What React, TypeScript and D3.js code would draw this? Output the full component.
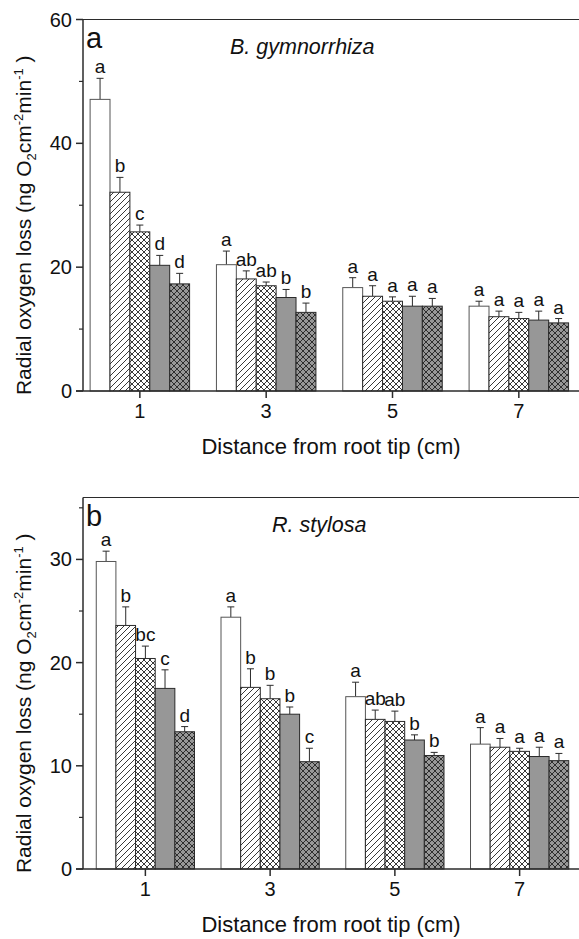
import React, { useEffect, useRef } from 'react';
import * as d3 from 'd3';

// distances along the root (cm) and the five treatments drawn in each group
const distances = [1, 3, 5, 7];
const treatmentFills = ['white', 'hatch', 'cross', 'grey', 'darkcross'];

// panel a: B. gymnorrhiza, one row per distance
const gymMeans = [
  [47.1, 32.1, 25.7, 20.3, 17.3],
  [20.4, 18.1, 17.0, 15.1, 12.7],
  [16.7, 15.3, 14.5, 13.7, 13.7],
  [13.7, 12.0, 11.7, 11.45, 11.0],
];
const gymErrors = [
  [3.4, 2.4, 1.1, 1.6, 1.7],
  [2.2, 1.3, 0.6, 1.3, 1.5],
  [1.6, 1.7, 0.7, 1.6, 1.25],
  [0.8, 0.9, 1.0, 1.45, 0.7],
];
const gymLetters = [
  ['a', 'b', 'c', 'd', 'd'],
  ['a', 'ab', 'ab', 'b', 'b'],
  ['a', 'a', 'a', 'a', 'a'],
  ['a', 'a', 'a', 'a', 'a'],
];

// panel b: R. stylosa
const styMeans = [
  [29.8, 23.6, 20.4, 17.5, 13.3],
  [24.4, 17.6, 16.5, 15.0, 10.4],
  [16.7, 14.5, 14.3, 12.5, 11.0],
  [12.1, 11.8, 11.4, 10.9, 10.5],
];
const styErrors = [
  [1.0, 1.8, 1.2, 1.8, 0.5],
  [1.0, 1.8, 1.3, 0.7, 1.3],
  [1.4, 0.9, 1.0, 0.5, 0.3],
  [1.6, 0.85, 0.3, 0.9, 0.7],
];
const styLetters = [
  ['a', 'b', 'bc', 'c', 'd'],
  ['a', 'b', 'b', 'b', 'c'],
  ['a', 'ab', 'ab', 'b', 'b'],
  ['a', 'a', 'a', 'a', 'a'],
];

const gymTicks = [0, 20, 40, 60];
const gymMinor = [10, 30, 50];
const styTicks = [0, 10, 20, 30];
const styMinor = [5, 15, 25, 35];

const FONT = '"Liberation Sans", Arial, Helvetica, sans-serif';
const INK = '#2b2b2b';
const BAR_W = 0.315; // in x units

const W = 579;
const H = 939;

type PanelCfg = {
  tag: string;
  species: string;
  speciesX: number;
  means: number[][];
  errors: number[][];
  letters: string[][];
  xDomain: [number, number];
  yDomain: [number, number];
  top: number;
  bottom: number;
  ticks: number[];
  minor: number[];
};

const fillFor = (f: string) => {
  if (f === 'white') return '#ffffff';
  if (f === 'grey') return '#979797';
  return `url(#pat-${f})`;
};

function drawPanel(svg: any, cfg: PanelCfg) {
  const left = 83;
  const right = W;

  const x = d3.scaleLinear().domain(cfg.xDomain).range([left, 582]);
  const y = d3.scaleLinear().domain(cfg.yDomain).range([cfg.bottom, cfg.top]);
  const inner = d3.scaleBand<number>()
    .domain(d3.range(treatmentFills.length))
    .range([-2.5 * BAR_W, 2.5 * BAR_W]);

  const g = svg.append('g');

  const bars = distances.flatMap((d, gi) =>
    treatmentFills.map((f, i) => ({
      d,
      i,
      fill: f,
      mean: cfg.means[gi][i],
      err: cfg.errors[gi][i],
      letter: cfg.letters[gi][i],
    }))
  );

  const x0 = (b: any) => x(b.d + (inner(b.i) as number));
  const x1 = (b: any) => x(b.d + (inner(b.i) as number) + BAR_W);
  const xc = (b: any) => (x0(b) + x1(b)) / 2;

  // error bars (upper half only)
  bars.forEach((b) => {
    const yt = y(b.mean + b.err);
    g.append('line')
      .attr('x1', xc(b)).attr('x2', xc(b))
      .attr('y1', y(b.mean)).attr('y2', yt)
      .attr('stroke', INK).attr('stroke-width', 1);
    g.append('line')
      .attr('x1', xc(b) - 3.5).attr('x2', xc(b) + 3.5)
      .attr('y1', yt).attr('y2', yt)
      .attr('stroke', INK).attr('stroke-width', 1);
  });

  g.selectAll('rect.bar')
    .data(bars)
    .join('rect')
    .attr('class', 'bar')
    .attr('x', x0)
    .attr('width', (b: any) => x1(b) - x0(b))
    .attr('y', (b: any) => y(b.mean))
    .attr('height', (b: any) => y(0) - y(b.mean))
    .attr('fill', (b: any) => fillFor(b.fill))
    .attr('stroke', (b: any) => (b.fill === 'white' ? '#555' : INK))
    .attr('stroke-width', 1);

  // significance letters
  g.selectAll('text.sig')
    .data(bars)
    .join('text')
    .attr('class', 'sig')
    .attr('x', xc)
    .attr('y', (b: any) => y(b.mean + b.err) - 5)
    .attr('text-anchor', 'middle')
    .attr('font-family', FONT)
    .attr('font-size', 19)
    .attr('fill', '#111')
    .text((b: any) => b.letter);

  // frame: left axis, top line, bottom axis
  const frame = g.append('g').attr('stroke', INK).attr('stroke-width', 1.5);
  frame.append('line').attr('x1', left).attr('x2', left).attr('y1', cfg.top).attr('y2', cfg.bottom);
  frame.append('line').attr('x1', left).attr('x2', right).attr('y1', cfg.top).attr('y2', cfg.top).attr('stroke-width', 1.2);
  frame.append('line').attr('x1', left - 7).attr('x2', right).attr('y1', cfg.bottom).attr('y2', cfg.bottom);

  // y ticks
  cfg.ticks.forEach((t) => {
    g.append('line')
      .attr('x1', left - 7).attr('x2', left)
      .attr('y1', y(t)).attr('y2', y(t))
      .attr('stroke', INK).attr('stroke-width', 1.5);
    g.append('text')
      .attr('x', left - 11)
      .attr('y', y(t))
      .attr('dy', '0.35em')
      .attr('text-anchor', 'end')
      .attr('font-family', FONT)
      .attr('font-size', 20)
      .attr('fill', '#111')
      .text(t);
  });
  cfg.minor.forEach((t) => {
    g.append('line')
      .attr('x1', left - 4).attr('x2', left)
      .attr('y1', y(t)).attr('y2', y(t))
      .attr('stroke', INK).attr('stroke-width', 1.2);
  });

  // x ticks
  distances.forEach((d) => {
    g.append('line')
      .attr('x1', x(d)).attr('x2', x(d))
      .attr('y1', cfg.bottom).attr('y2', cfg.bottom + 7)
      .attr('stroke', INK).attr('stroke-width', 1.5);
    g.append('text')
      .attr('x', x(d))
      .attr('y', cfg.bottom + 27)
      .attr('text-anchor', 'middle')
      .attr('font-family', FONT)
      .attr('font-size', 20)
      .attr('fill', '#111')
      .text(d);
  });

  // axis titles
  g.append('text')
    .attr('x', 331)
    .attr('y', cfg.bottom + 63)
    .attr('text-anchor', 'middle')
    .attr('font-family', FONT)
    .attr('font-size', 22)
    .attr('fill', '#111')
    .text('Distance from root tip (cm)');

  const yl = g.append('text')
    .attr('transform', `translate(31,${(cfg.top + cfg.bottom) / 2 + 20}) rotate(-90)`)
    .attr('text-anchor', 'middle')
    .attr('font-family', FONT)
    .attr('font-size', 21)
    .attr('fill', '#111');
  yl.append('tspan').text('Radial oxygen loss (ng O');
  yl.append('tspan').attr('font-size', 13).attr('dy', 5).text('2');
  yl.append('tspan').attr('dy', -5).text('cm');
  yl.append('tspan').attr('font-size', 13).attr('dy', -8).text('-2');
  yl.append('tspan').attr('dy', 8).text('min');
  yl.append('tspan').attr('font-size', 13).attr('dy', -8).text('-1');
  yl.append('tspan').attr('dy', 8).text('\u00a0)');

  // panel tag and species name
  g.append('text')
    .attr('x', 86)
    .attr('y', cfg.top + 28)
    .attr('font-family', FONT)
    .attr('font-size', 29)
    .attr('fill', '#111')
    .text(cfg.tag);
  g.append('text')
    .attr('x', cfg.speciesX)
    .attr('y', cfg.top + 34)
    .attr('font-family', FONT)
    .attr('font-style', 'italic')
    .attr('font-size', 21.5)
    .attr('fill', '#111')
    .text(cfg.species);
}

const RolChart = () => {
  const svgRef = useRef<SVGSVGElement | null>(null);

  useEffect(() => {
    const svg = d3.select(svgRef.current);
    svg.selectAll('*').remove();

    // hatch patterns
    const defs = svg.append('defs');
    const mk = (id: string, bg: string, dirs: string[]) => {
      const p = defs.append('pattern')
        .attr('id', id)
        .attr('patternUnits', 'userSpaceOnUse')
        .attr('width', 6)
        .attr('height', 6);
      p.append('rect').attr('width', 6).attr('height', 6).attr('fill', bg);
      const paths: Record<string, string> = {
        fwd: 'M-1,1 L1,-1 M0,6 L6,0 M5,7 L7,5',
        back: 'M-1,5 L1,7 M0,0 L6,6 M5,-1 L7,1',
      };
      dirs.forEach((d) =>
        p.append('path').attr('d', paths[d]).attr('stroke', '#222').attr('stroke-width', 0.9)
      );
    };
    mk('pat-hatch', '#ffffff', ['fwd']);
    mk('pat-cross', '#ffffff', ['fwd', 'back']);
    mk('pat-darkcross', '#979797', ['fwd', 'back']);

    svg.append('rect').attr('width', W).attr('height', H).attr('fill', '#fff');

    drawPanel(svg, {
      tag: 'a',
      species: 'B. gymnorrhiza',
      speciesX: 230,
      means: gymMeans,
      errors: gymErrors,
      letters: gymLetters,
      xDomain: [0.1, 8],
      yDomain: [0, 60],
      top: 19.5,
      bottom: 391,
      ticks: gymTicks,
      minor: gymMinor,
    });

    drawPanel(svg, {
      tag: 'b',
      species: 'R. stylosa',
      speciesX: 272,
      means: styMeans,
      errors: styErrors,
      letters: styLetters,
      xDomain: [0, 8],
      yDomain: [0, 36],
      top: 497.5,
      bottom: 869,
      ticks: styTicks,
      minor: styMinor,
    });
  }, []);

  return (
    <svg
      ref={svgRef}
      width={W}
      height={H}
      style={{ position: 'absolute', left: 0, top: 0, display: 'block' }}
    />
  );
};

export default function App() {
  return <RolChart />;
}
